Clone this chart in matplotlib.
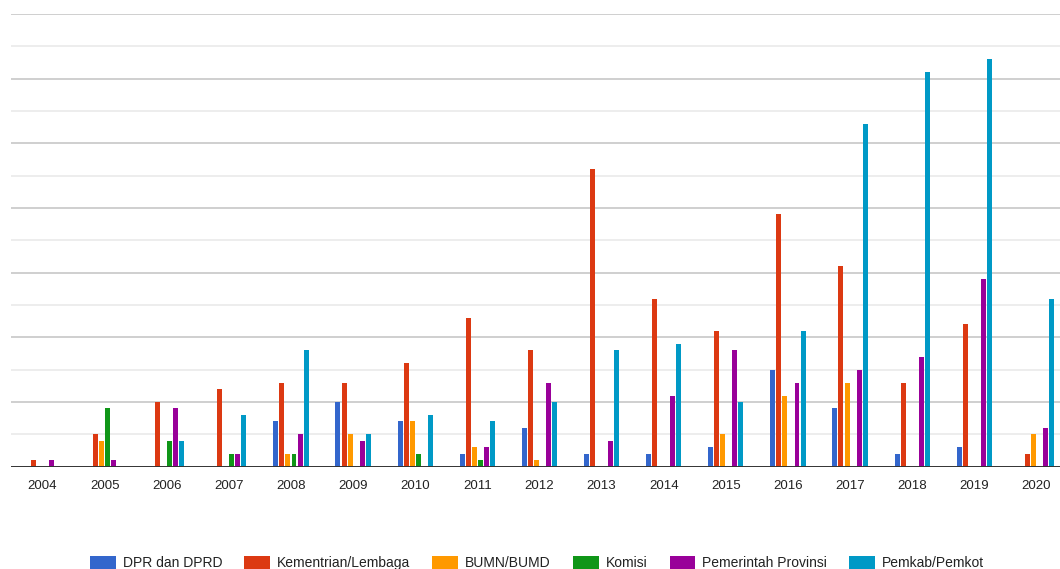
import matplotlib
matplotlib.use("Agg")
import matplotlib.pyplot as plt
import numpy as np

plt.rcParams['font.family'] = ['Liberation Sans', 'DejaVu Sans']

years = [str(y) for y in range(2004, 2021)]

series_names = ["DPR dan DPRD", "Kementrian/Lembaga", "BUMN/BUMD",
                "Komisi", "Pemerintah Provinsi", "Pemkab/Pemkot"]
colors = ["#3366CC", "#DC3912", "#FF9900", "#109618", "#990099", "#0099C6"]

dpr_dprd = [0, 0, 0, 0, 7, 10, 7, 2, 6, 2, 2, 3, 15, 9, 2, 3, 0]
kementrian = [1, 5, 10, 12, 13, 13, 16, 23, 18, 46, 26, 21, 39, 31, 13, 22, 2]
bumn_bumd = [0, 4, 0, 0, 2, 5, 7, 3, 1, 0, 0, 5, 11, 13, 0, 0, 5]
komisi = [0, 9, 4, 2, 2, 0, 2, 1, 0, 0, 0, 0, 0, 0, 0, 0, 0]
pemprov = [1, 1, 9, 2, 5, 4, 0, 3, 13, 4, 11, 18, 13, 15, 17, 29, 6]
pemkab_pemkot = [0, 0, 4, 8, 18, 5, 8, 7, 10, 18, 19, 10, 21, 53, 61, 63, 26]

values = [dpr_dprd, kementrian, bumn_bumd, komisi, pemprov, pemkab_pemkot]

fig = plt.figure(figsize=(10.6, 5.69), dpi=100)
ax = fig.add_axes([11 / 1060, 102.3 / 569, 1049 / 1060, 452.7 / 569])

x = np.arange(len(years))
slot = 0.0973
bar_w = 0.08
for i, (name, vals, c) in enumerate(zip(series_names, values, colors)):
    ax.bar(x + (i - 2.5) * slot, vals, width=bar_w, color=c, label=name,
           zorder=3, linewidth=0)

ax.set_ylim(0, 70)
ax.set_xlim(-0.507, 16.38)

# gridlines: darker every 10, lighter in between
for v in range(10, 71, 10):
    ax.axhline(v, color="#cccccc", lw=1.3, zorder=1)
for v in range(5, 70, 10):
    ax.axhline(v, color="#e8e8e8", lw=1.1, zorder=1)
ax.axhline(0, color="#333333", lw=1.4, zorder=4)

ax.set_yticks([])
ax.set_xticks(x)
ax.set_xticklabels(years, fontsize=9.5, color="#222222")
ax.tick_params(axis="x", length=0, pad=9.5)
for s in ax.spines.values():
    s.set_visible(False)

fig.legend(loc="center", bbox_to_anchor=(537 / 1060, 1 - 563 / 569),
           ncol=6, frameon=False, fontsize=10, handlelength=1.85,
           handleheight=1.05, handletextpad=0.5, columnspacing=1.6,
           labelcolor="#222222")

fig.savefig("out.png", dpi=100, facecolor="white")
